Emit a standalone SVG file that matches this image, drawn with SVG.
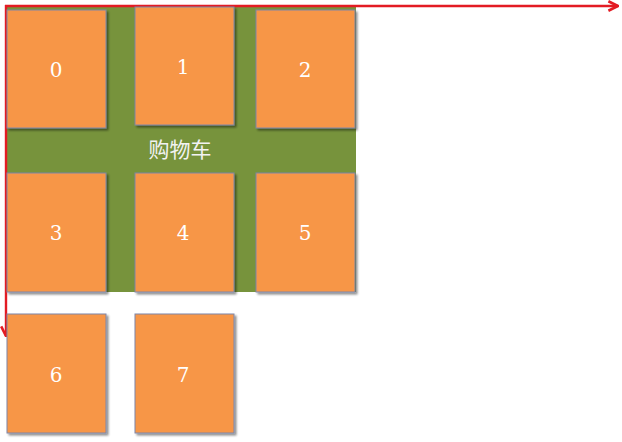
<svg xmlns="http://www.w3.org/2000/svg" width="622" height="442" viewBox="0 0 622 442">
<defs>
<marker id="arr" viewBox="0 0 10 10" refX="9" refY="5" markerWidth="12" markerHeight="12" markerUnits="userSpaceOnUse" orient="auto">
<path d="M1,1 L9,5 L1,9" fill="none" stroke="#e31b23" stroke-width="2.2"/>
</marker>
<filter id="sh" x="-10%" y="-10%" width="130%" height="130%">
<feGaussianBlur in="SourceAlpha" stdDeviation="1.2"/>
<feOffset dx="1.5" dy="2" result="b"/>
<feComponentTransfer><feFuncA type="linear" slope="0.45"/></feComponentTransfer>
<feMerge><feMergeNode/><feMergeNode in="SourceGraphic"/></feMerge>
</filter>
</defs>
<style>
.box{fill:#F79646;stroke:#7f86a8;stroke-width:1;filter:url(#sh)}
.num{font-family:"DejaVu Serif","Liberation Serif",serif;font-size:20px;fill:#ffffff;text-anchor:middle}
.cn{font-family:"Noto Sans CJK SC",sans-serif;font-size:21px;fill:#f2f2f2;text-anchor:middle}
.conn{stroke:#e31b23;stroke-width:2.4;fill:none}
</style>
<rect id="cart" x="7" y="7" width="349" height="285" fill="#77933C"/>
<g id="connectors">
<line class="conn" x1="5" y1="6" x2="618" y2="6" marker-end="url(#arr)"/>
<line class="conn" x1="6" y1="5" x2="6" y2="336" marker-end="url(#arr)"/>
</g>
<text class="cn" x="180" y="157">购物车</text>
<g id="n0"><rect class="box" x="7" y="10" width="99" height="118"/><text class="num" x="56" y="77">0</text></g>
<g id="n1"><rect class="box" x="135" y="7" width="99" height="118"/><text class="num" x="183" y="74">1</text></g>
<g id="n2"><rect class="box" x="256" y="10" width="99" height="118"/><text class="num" x="305" y="77">2</text></g>
<g id="n3"><rect class="box" x="7" y="173" width="99" height="119"/><text class="num" x="56" y="240">3</text></g>
<g id="n4"><rect class="box" x="135" y="173" width="99" height="119"/><text class="num" x="183" y="240">4</text></g>
<g id="n5"><rect class="box" x="256" y="173" width="99" height="119"/><text class="num" x="305" y="240">5</text></g>
<g id="n6"><rect class="box" x="7" y="314" width="99" height="119"/><text class="num" x="56" y="382">6</text></g>
<g id="n7"><rect class="box" x="135" y="314" width="99" height="119"/><text class="num" x="183" y="382">7</text></g>
</svg>
